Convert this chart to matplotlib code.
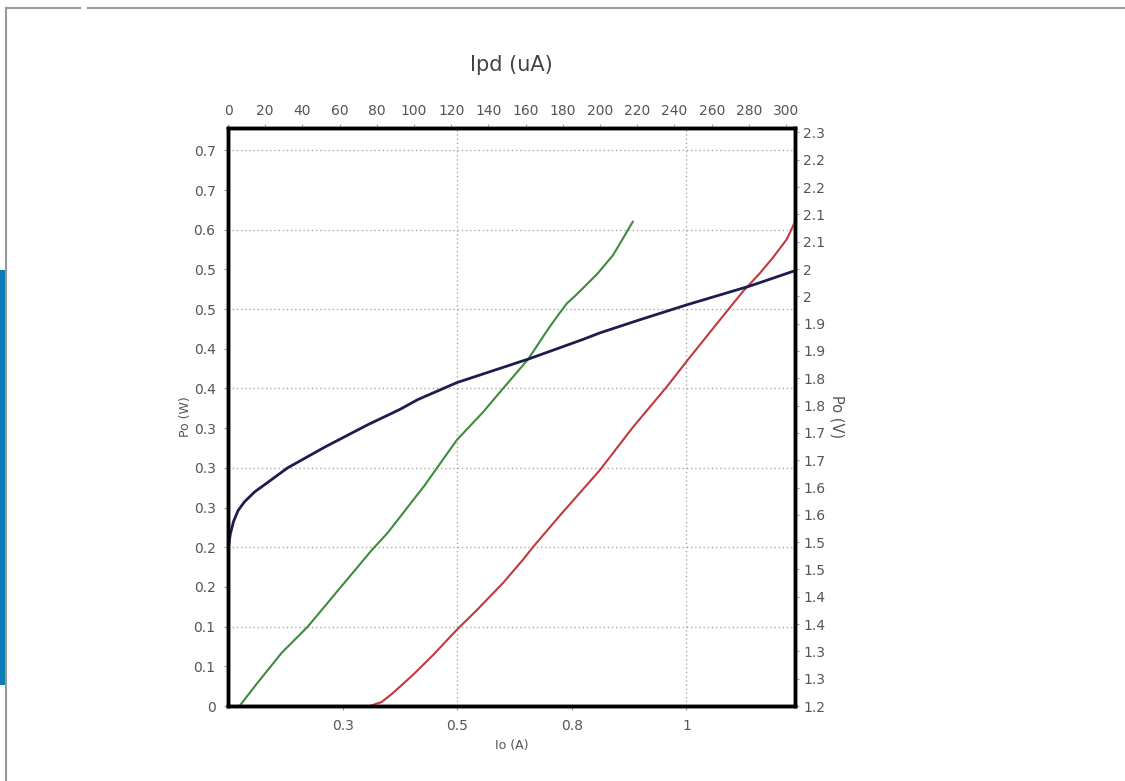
import matplotlib
matplotlib.use("Agg")
import matplotlib.pyplot as plt
from matplotlib.lines import Line2D
from matplotlib.patches import Rectangle

# Po (W) vs Io (A), green curve
io_green = [0.025, 0.064, 0.117, 0.174, 0.239, 0.313, 0.348, 0.375, 0.429, 0.499,
            0.556, 0.600, 0.655, 0.695, 0.717, 0.739, 0.756, 0.772, 0.805, 0.840, 0.883]
po_green = [0.0, 0.029, 0.067, 0.100, 0.145, 0.196, 0.218, 0.238, 0.278, 0.335,
            0.370, 0.400, 0.437, 0.472, 0.490, 0.507, 0.516, 0.525, 0.544, 0.568, 0.610]

# Po (W) vs Io (A), red curve
io_red = [0.0, 0.309, 0.335, 0.359, 0.403, 0.447, 0.499, 0.543, 0.600, 0.643, 0.665, 0.724,
          0.811, 0.883, 0.957, 1.003, 1.067, 1.123, 1.160, 1.189, 1.219, 1.237]
po_red = [0.0, 0.0, 0.005, 0.016, 0.039, 0.064, 0.096, 0.121, 0.155, 0.184, 0.200, 0.240,
          0.297, 0.351, 0.402, 0.436, 0.482, 0.522, 0.545, 0.565, 0.588, 0.610]

# Po (V) vs Io (A), dark blue curve
io_blue = [0.001, 0.005, 0.012, 0.022, 0.036, 0.058, 0.086, 0.130, 0.211, 0.305, 0.375,
           0.414, 0.499, 0.658, 0.774, 0.811, 0.898, 1.003, 1.139, 1.237]
po_blue = [1.491, 1.515, 1.538, 1.558, 1.574, 1.592, 1.609, 1.636, 1.674, 1.715, 1.743,
           1.761, 1.792, 1.836, 1.871, 1.883, 1.907, 1.935, 1.969, 1.997]

left_ticks = [0, 0.05, 0.1, 0.15, 0.2, 0.25, 0.3, 0.35, 0.4, 0.45, 0.5, 0.55, 0.6, 0.65, 0.7]
left_labels = ["0", "0.1", "0.1", "0.2", "0.2", "0.3", "0.3", "0.3", "0.4", "0.4",
               "0.5", "0.5", "0.6", "0.7", "0.7"]
right_ticks = [1.2 + 0.05 * i for i in range(22)]
right_labels = ["1.2", "1.3", "1.3", "1.4", "1.4", "1.5", "1.5", "1.6", "1.6", "1.7", "1.7",
                "1.8", "1.8", "1.9", "1.9", "2", "2", "2.1", "2.1", "2.2", "2.2", "2.3"]
bottom_ticks = [0.25, 0.5, 0.75, 1.0]
bottom_labels = ["0.3", "0.5", "0.8", "1"]
top_ticks = list(range(0, 301, 20))

txt = "#555555"
grid_kw = dict(color="#aaaaaa", linestyle=(0, (1, 2)), linewidth=1)

fig = plt.figure(figsize=(11.25, 7.81), dpi=100)
ax = fig.add_axes([0.2027, 0.096, 0.504, 0.740])

ax.plot(io_green, po_green, color="#3c8c3c", lw=1.5, zorder=3)
ax.plot(io_red, po_red, color="#c0393f", lw=1.5, zorder=3)
ax.set_xlim(0, 1.237)
ax.set_ylim(0, 0.728)
ax.set_yticks(left_ticks)
ax.set_yticklabels(left_labels)
ax.set_xticks(bottom_ticks)
ax.set_xticklabels(bottom_labels)
for y in [0.1, 0.2, 0.3, 0.4, 0.5, 0.6, 0.7]:
    ax.axhline(y, zorder=1, **grid_kw)
for x in [0.5, 1.0]:
    ax.axvline(x, zorder=1, **grid_kw)
ax.tick_params(colors="#999999", labelcolor=txt, labelsize=10, length=3, width=0.8, pad=6)
ax.set_ylabel("Po (W)", color=txt, fontsize=9, labelpad=1)
ax.set_xlabel("Io (A)", color=txt, fontsize=9, labelpad=5)

axr = ax.twinx()
axr.plot(io_blue, po_blue, color="#1c1c50", lw=2, zorder=3)
axr.set_ylim(1.2, 2.258)
axr.set_yticks(right_ticks)
axr.set_yticklabels(right_labels)
axr.tick_params(colors="#999999", labelcolor=txt, labelsize=10, length=3, width=0.8, pad=3)
axr.set_ylabel("Po (V)", color=txt, fontsize=10.5, rotation=270, labelpad=14)

axt = ax.twiny()
axt.set_xlim(0, 304.8)
axt.set_xticks(top_ticks)
axt.tick_params(colors="#999999", labelcolor=txt, labelsize=10, length=3, width=0.8, pad=4)
axt.set_xlabel("Ipd (uA)", color="#444444", fontsize=15, labelpad=24)

for a in (ax, axr, axt):
    for s in a.spines.values():
        s.set_linewidth(2.4)
        s.set_color("black")

# page frame decorations
fig.add_artist(Line2D([5.5 / 1125, 80 / 1125], [1 - 8 / 781, 1 - 8 / 781],
                      transform=fig.transFigure, color="#999999", lw=1.5))
fig.add_artist(Line2D([88 / 1125, 1.0], [1 - 8 / 781, 1 - 8 / 781],
                      transform=fig.transFigure, color="#999999", lw=1.5))
fig.add_artist(Line2D([5.5 / 1125, 5.5 / 1125], [0, 1 - 8 / 781],
                      transform=fig.transFigure, color="#999999", lw=1.5))
fig.add_artist(Rectangle((0, 1 - 685 / 781), 5 / 1125, 415 / 781,
                         transform=fig.transFigure, color="#0a7cb8", lw=0))

fig.savefig("out.png", dpi=100)
